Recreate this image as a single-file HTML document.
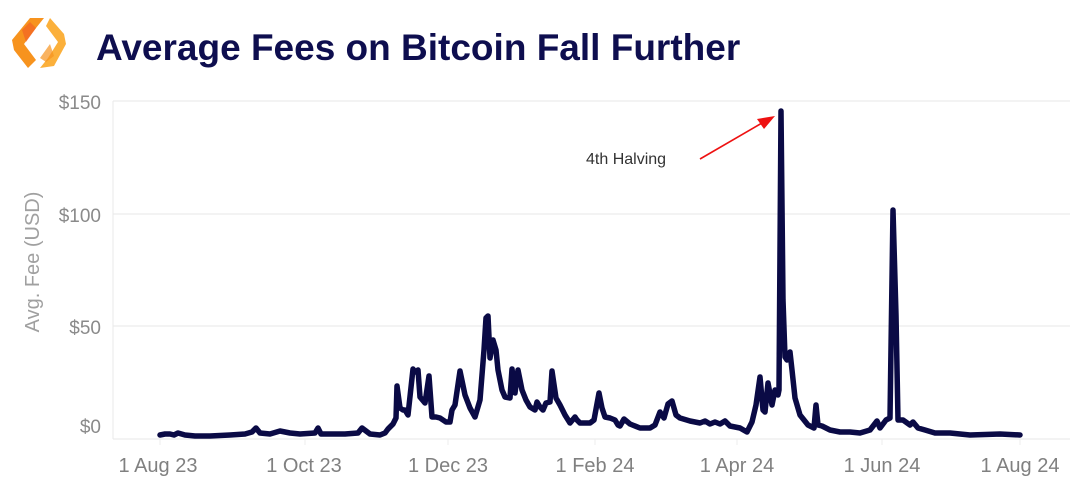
<!DOCTYPE html>
<html><head><meta charset="utf-8"><style>
html,body{margin:0;padding:0;background:#fff;}
body{width:1076px;height:497px;overflow:hidden;font-family:"Liberation Sans",Arial,sans-serif;}
</style></head><body>
<svg width="1076" height="497" viewBox="0 0 1076 497" xmlns="http://www.w3.org/2000/svg">
<!-- logo -->
<polygon points="30,18 44,18 36,28 24,44 36,60 28,68 14,50 12,40" fill="#f7931e"/>
<polygon points="50,18 64,34 66,44 54,66 40,68 48,58 58,42 46,26" fill="#fbb03b"/>
<polygon points="22,30 30,22 36,28 26,42" fill="#f15a24" opacity="0.6"/>
<polygon points="54,56 46,62 40,58 50,44" fill="#f7931e" opacity="0.7"/>
<text x="96" y="60" font-size="37" font-weight="bold" fill="#0e0e4f" font-family="Liberation Sans, Arial, sans-serif">Average Fees on Bitcoin Fall Further</text>
<!-- grid -->
<g stroke="#ececec" stroke-width="1.2">
<line x1="113" y1="101" x2="1070" y2="101"/>
<line x1="113" y1="214" x2="1070" y2="214"/>
<line x1="113" y1="326" x2="1070" y2="326"/>
<line x1="113" y1="439" x2="1070" y2="439"/>
<line x1="113" y1="101" x2="113" y2="439"/>
</g>
<g stroke="#ececec" stroke-width="1">
<line x1="160" y1="439" x2="160" y2="445"/><line x1="305" y1="439" x2="305" y2="445"/>
<line x1="448" y1="439" x2="448" y2="445"/><line x1="595" y1="439" x2="595" y2="445"/>
<line x1="737" y1="439" x2="737" y2="445"/><line x1="882" y1="439" x2="882" y2="445"/>
<line x1="1020" y1="439" x2="1020" y2="445"/>
</g>
<g font-size="19" fill="#8a8a8a" text-anchor="end">
<text x="101" y="109">$150</text><text x="101" y="222">$100</text>
<text x="101" y="334">$50</text><text x="101" y="433">$0</text>
</g>
<g font-size="20" fill="#808080" text-anchor="middle">
<text x="158" y="472">1 Aug 23</text><text x="304" y="472">1 Oct 23</text>
<text x="448" y="472">1 Dec 23</text><text x="595" y="472">1 Feb 24</text>
<text x="737" y="472">1 Apr 24</text><text x="882" y="472">1 Jun 24</text>
<text x="1020" y="472">1 Aug 24</text>
</g>
<text transform="translate(39,262) rotate(-90)" font-size="20" fill="#a0a0a0" text-anchor="middle">Avg. Fee (USD)</text>
<text x="586" y="164" font-size="16" fill="#333">4th Halving</text>
<line x1="700" y1="159" x2="762" y2="123" stroke="#ee1111" stroke-width="1.6"/>
<polygon points="775,116 757,119 764,129" fill="#ee1111"/>
<polyline fill="none" stroke="#0a0a45" stroke-width="5.5" stroke-linejoin="round" stroke-linecap="round" points="
160,435 165,434 170,434 174,435 178,433 185,435 195,436 210,436 230,435 245,434 252,432 256,428 260,433 270,434 280,431 290,433 300,434 315,433 318,428 321,434 330,434 345,434 358,433 362,428 370,434 380,435 385,433 388,429
393,424 396,418 397,386 400,408 403,410 405,410 408,415 413,369 415,372 418,370 420,397 425,403 429,376 432,417 436,417 440,418 446,422 450,422 452,410 455,405 460,371 465,395 470,408 475,417 480,400 484,350 486,318 488,316 490,358 493,340 496,350 498,370 502,390 505,397 510,398 512,369 515,393 518,370 522,390 526,400 530,407 535,410 537,402 540,407 543,410 546,403 550,402 552,371 556,398 560,405 565,415 570,423 575,417 577,420 580,423 585,423 590,423 594,420 599,393 602,408 605,417 610,418 615,420 618,425 620,426 624,419 630,424 640,428 650,428 655,425 660,412 664,418 668,404 672,401 676,415 680,418 690,421
700,423 705,421 710,424 715,422 720,424 725,421 730,426 740,428 747,432 752,422 756,405 760,377 763,410 765,412 768,383 772,405 775,390 778,395 779,390 781,111 783,300 785,357 787,360 790,352 792,370 795,398 800,415 808,425 814,428 816,405 818,425 822,426 830,430 840,432 850,432 860,433 870,430 877,421 880,428 886,420 890,418 893,210 896,315 898,420 903,420 910,425 913,422 918,428 925,430 935,433 950,433 970,435 1000,434 1020,435"/>
</svg>
</body></html>
